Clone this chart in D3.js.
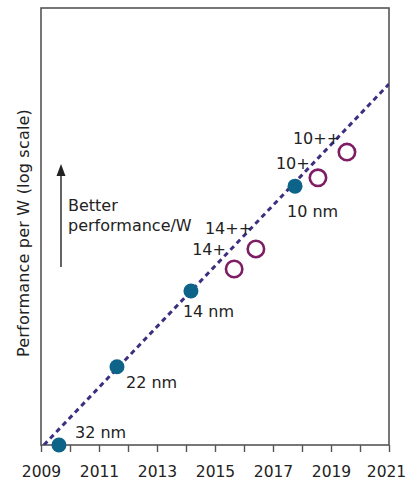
<!DOCTYPE html>
<html>
<head>
<meta charset="utf-8">
<script src="https://cdn.jsdelivr.net/npm/d3@7"></script>
<style>
  body { margin: 0; background: #fff; }
  text { font-family: "DejaVu Sans", sans-serif; fill: #222; }
</style>
</head>
<body>
<div id="container"></div>
<script>
/* DATA */
// process nodes: year introduced, relative performance per W (log)
const nodeNames = ["32 nm", "22 nm", "14 nm", "10 nm"]
const nodeYears = [2009.62, 2011.62, 2014.17, 2017.76]
const nodePerf = [1.0, 2.28, 5.07, 15.3]

// refinements of a node
const plusNames = ["14+", "14++", "10+", "10++"]
const plusYears = [2015.66, 2016.41, 2018.55, 2019.55]
const plusPerf = [6.39, 7.89, 16.7, 21.9]

// trend line
const trendYears = [2009.1, 2021]
const trendPerf = [1.0, 44.9]

const tickYears = d3.range(2009, 2022)

/* CONSTANTS */
const W = 406, H = 481
const margin = {top: 8, right: 17, bottom: 36, left: 41}
const width = W - margin.left - margin.right
const height = H - margin.top - margin.bottom

const svg = d3.select("#container")
  .append("svg")
    .attr("width", W)
    .attr("height", H)

const g = svg.append("g")
    .attr("transform", "translate(" + margin.left + "," + margin.top + ")")

// SCALES
const xScale = d3.scaleLinear()
  .domain([2009, 2021])
  .range([0, width])

const yScale = d3.scaleLog()
  .domain([1, 100])
  .range([height, 0])

g.append("clipPath").attr("id", "clip")
  .append("rect").attr("width", width).attr("height", height)

// frame
g.append("rect")
  .attr("width", width)
  .attr("height", height)
  .attr("fill", "none")
  .attr("stroke", "#555")
  .attr("stroke-width", 1.6)

// x axis
const xAxis = g.append("g")
  .attr("transform", "translate(0," + height + ")")
  .call(d3.axisBottom(xScale)
    .tickValues(tickYears)
    .tickSize(7)
    .tickFormat(d => d % 2 === 1 ? d : ""))
xAxis.select(".domain").remove()
xAxis.selectAll(".tick line").attr("stroke", "#555").attr("stroke-width", 1.4)
xAxis.selectAll(".tick text")
  .attr("y", 32).attr("dy", 0)
  .attr("dx", d => d === 2021 ? -3 : 0)
  .style("font-family", "DejaVu Sans, sans-serif")
  .style("font-size", "15.5px")
  .attr("fill", "#222")

// trend line
const trend = trendYears.map((y, i) => ({year: y, perf: trendPerf[i]}))
g.append("path")
  .datum(trend)
  .attr("clip-path", "url(#clip)")
  .attr("fill", "none")
  .attr("stroke", "#3d2f80")
  .attr("stroke-width", 3)
  .attr("stroke-dasharray", "5,4")
  .attr("d", d3.line().x(d => xScale(d.year)).y(d => yScale(d.perf)))

// nodes
const nodes = nodeNames.map((n, i) => ({name: n, year: nodeYears[i], perf: nodePerf[i]}))
const pluses = plusNames.map((n, i) => ({name: n, year: plusYears[i], perf: plusPerf[i]}))

g.selectAll(".node")
  .data(nodes)
  .join("circle")
    .attr("class", "node")
    .attr("cx", d => xScale(d.year))
    .attr("cy", d => yScale(d.perf))
    .attr("r", 7.5)
    .attr("fill", "#0d6488")

g.selectAll(".plus")
  .data(pluses)
  .join("circle")
    .attr("class", "plus")
    .attr("cx", d => xScale(d.year))
    .attr("cy", d => yScale(d.perf))
    .attr("r", 8.2)
    .attr("fill", "#fff")
    .attr("stroke", "#7d1d63")
    .attr("stroke-width", 2.6)

// labels (offsets from the point)
const nodeOffsets = [[16, -7], [9, 21], [-8, 26], [-8, 31]]
g.selectAll(".nodeLabel")
  .data(nodes)
  .join("text")
    .attr("x", (d, i) => xScale(d.year) + nodeOffsets[i][0])
    .attr("y", (d, i) => yScale(d.perf) + nodeOffsets[i][1])
    .style("font-size", "16px")
    .text(d => d.name)

const plusOffsets = [[-42, -14], [-51, -15], [-42, -9], [-54, -8]]
g.selectAll(".plusLabel")
  .data(pluses)
  .join("text")
    .attr("x", (d, i) => xScale(d.year) + plusOffsets[i][0])
    .attr("y", (d, i) => yScale(d.perf) + plusOffsets[i][1])
    .style("font-size", "16px")
    .text(d => d.name)

// arrow annotation
svg.append("line")
  .attr("x1", 61).attr("x2", 61)
  .attr("y1", 267).attr("y2", 172)
  .attr("stroke", "#222")
  .attr("stroke-width", 1.4)
svg.append("path")
  .attr("d", "M56.5,176 L61,164 L65.5,176 Z")
  .attr("fill", "#222")

svg.append("text")
  .attr("x", 68).attr("y", 211)
  .style("font-size", "16px")
  .text("Better")
svg.append("text")
  .attr("x", 68).attr("y", 231)
  .style("font-size", "16px")
  .text("performance/W")

// y title
svg.append("text")
  .attr("transform", "translate(29,233) rotate(-90)")
  .attr("text-anchor", "middle")
  .style("font-size", "16px")
  .style("letter-spacing", "0.2px")
  .text("Performance per W (log scale)")
</script>
</body>
</html>
